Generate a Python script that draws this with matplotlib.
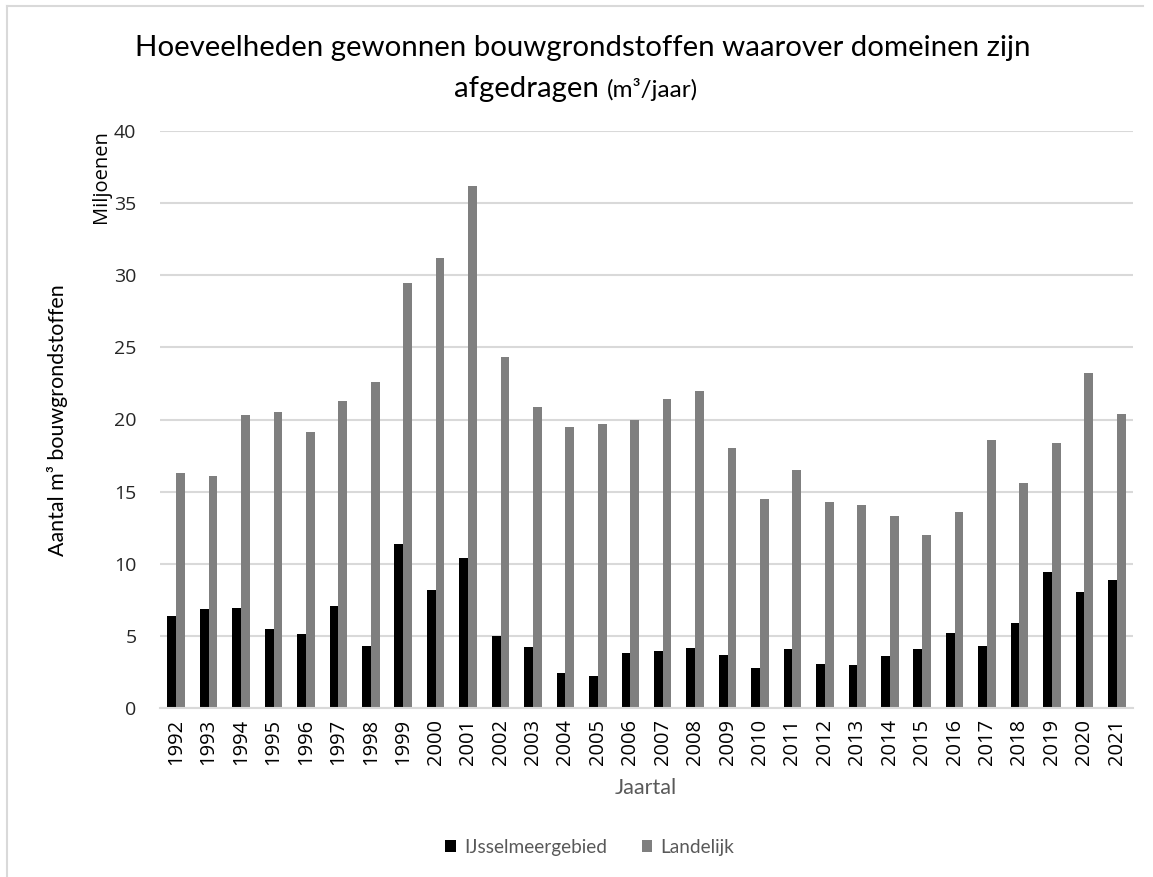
import matplotlib
matplotlib.use("Agg")
import matplotlib.pyplot as plt
from matplotlib.lines import Line2D
from matplotlib.patches import Patch
import numpy as np

years = [str(y) for y in range(1992, 2022)]
ijsselmeer = [6.4, 6.85, 6.96, 5.5, 5.1, 7.04, 4.33, 11.37, 8.16, 10.38,
              4.96, 4.25, 2.41, 2.19, 3.8, 3.97, 4.19, 3.67, 2.74, 4.1,
              3.04, 2.96, 3.59, 4.1, 5.18, 4.33, 5.89, 9.42, 8.03, 8.85]
landelijk = [16.27, 16.1, 20.3, 20.55, 19.1, 21.3, 22.6, 29.45, 31.2, 36.2,
             24.3, 20.9, 19.5, 19.67, 19.97, 21.4, 22.0, 18.05, 14.5, 16.5,
             14.3, 14.08, 13.3, 12.0, 13.6, 18.6, 15.6, 18.36, 23.2, 20.4]
yticks = [0, 5, 10, 15, 20, 25, 30, 35, 40]
series_names = ["IJsselmeergebied", "Landelijk"]

W, H = 1153, 877
fig = plt.figure(figsize=(W / 100, H / 100), dpi=100)
fig.patch.set_facecolor("white")

def fx(px):
    return px / W

def fy(py):
    return 1 - py / H

TICKFONT = ["Open Sans", "DejaVu Sans"]
LABFONT = ["Lato", "DejaVu Sans"]

# outer frame (left and top visible)
fig.add_artist(Line2D([fx(7), fx(7)], [fy(6), fy(H + 5)], color="#d9d9d9", lw=1.5))
fig.add_artist(Line2D([fx(7), fx(1143)], [fy(6), fy(6)], color="#d9d9d9", lw=1.5))

ax = fig.add_axes([fx(160), fy(708), fx(1133) - fx(160), fy(131) - fy(708)])
x = np.arange(len(years))
bw = 0.27
ax.bar(x - bw / 2, ijsselmeer, width=bw, color="#000000", zorder=3)
ax.bar(x + bw / 2, landelijk, width=bw, color="#7f7f7f", zorder=3)

ax.set_xlim(-0.5, len(years) - 0.5)
ax.set_ylim(0, 40)
ax.set_yticks(yticks)
ax.set_yticklabels([str(v) for v in yticks], family=TICKFONT, fontsize=14, color="#262626")
ax.set_xticks(x)
ax.set_xticklabels(years, rotation=90, family=TICKFONT, fontsize=14.5, color="#000000")
ax.tick_params(axis="both", length=0)
ax.tick_params(axis="y", pad=17)
ax.tick_params(axis="x", pad=8)
ax.grid(axis="y", color="#d9d9d9", lw=1.5, zorder=0)
for s in ["left", "right", "top"]:
    ax.spines[s].set_visible(False)
ax.spines["bottom"].set_color("#d9d9d9")
ax.spines["bottom"].set_linewidth(1.5)
ax.spines["bottom"].set_zorder(4)

# Title
fig.text(0.5 * (fx(132) + fx(1034)), fy(56), "Hoeveelheden gewonnen bouwgrondstoffen waarover domeinen zijn",
         ha="center", va="baseline", family=LABFONT, fontsize=21.2, color="#000000")
t2 = fig.text(fx(454), fy(97), "afgedragen ", ha="left", va="baseline",
              family=LABFONT, fontsize=21.2, color="#000000")
fig.canvas.draw()
ext = t2.get_window_extent(renderer=fig.canvas.get_renderer())
fig.text(ext.x1 / W, fy(97), "(m³/jaar)", ha="left", va="baseline",
         family=LABFONT, fontsize=17.5, color="#000000")

# axis labels
fig.text(fx(101), fy(177), "Miljoenen", rotation=90, ha="center", va="center",
         family=TICKFONT, fontsize=14.5, color="#000000")
fig.text(fx(58), fy(420), "Aantal m³ bouwgrondstoffen", rotation=90, ha="center", va="center",
         family=LABFONT, fontsize=15.4, color="#000000")
fig.text(fx(646), fy(788), "Jaartal", ha="center", va="center",
         family=LABFONT, fontsize=15.5, color="#595959")

handles = [Patch(facecolor="#000000", edgecolor="none"), Patch(facecolor="#7f7f7f", edgecolor="none")]
leg = fig.legend(handles, series_names, loc="center", bbox_to_anchor=(fx(590), fy(847)),
                 ncol=2, frameon=False, prop={"family": LABFONT, "size": 13.7},
                 handlelength=0.55, handleheight=0.55, handletextpad=0.45, columnspacing=1.8)
for t in leg.get_texts():
    t.set_color("#595959")

fig.savefig("out.png", dpi=100, facecolor="white")
